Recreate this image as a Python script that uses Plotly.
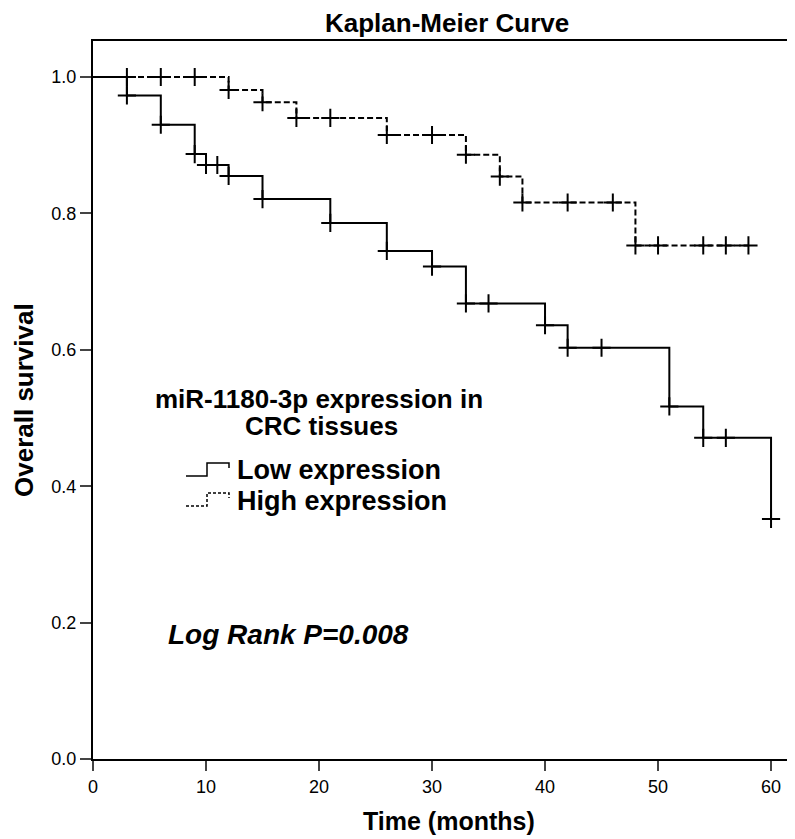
import plotly.graph_objects as go

# ---- data ----
low_event_times = [0, 3, 6, 9, 10, 12, 15, 21, 26, 30, 33, 40, 42, 51, 54, 60]
low_survival = [1.0, 0.973, 0.930, 0.887, 0.871, 0.855, 0.821, 0.786, 0.745, 0.722, 0.668, 0.636, 0.603, 0.517, 0.471, 0.352]
low_censor_times = [3, 6, 9, 10, 11, 12, 15, 21, 26, 30, 33, 35, 40, 42, 45, 51, 54, 56, 60]
low_end_time = 60

high_event_times = [0, 12, 15, 18, 26, 33, 36, 38, 48]
high_survival = [1.0, 0.981, 0.963, 0.940, 0.915, 0.886, 0.854, 0.816, 0.753]
high_censor_times = [3, 6, 9, 12, 15, 18, 21, 26, 30, 33, 36, 38, 42, 46, 48, 50, 54, 56, 58]
high_end_time = 58

x_ticks = [0, 10, 20, 30, 40, 50, 60]
y_ticks = [0.0, 0.2, 0.4, 0.6, 0.8, 1.0]
y_tick_labels = ["0.0", "0.2", "0.4", "0.6", "0.8", "1.0"]

FONT = "Liberation Sans, Arial, sans-serif"
W, H = 795, 839
OFF = 8  # page body margin of the html page
# plot area in screen pixels: left 93, top 41, bottom (y=0) 759, right 795
ML, MT = 93 - OFF, 41 - OFF
MR = W + OFF - 795
MB = H - (759 - OFF)


def surv_at(t, times, surv):
    s = surv[0]
    for ti, si in zip(times, surv):
        if ti <= t:
            s = si
    return s


def px(xs, ys):
    # screen pixel -> paper coordinates
    xf, yf = xs - OFF, ys - OFF
    return (xf - ML) / (W - ML - MR), (H - MB - yf) / (H - MT - MB)


fig = go.Figure()

for times, surv, ctimes, tend, dash in [
    (low_event_times, low_survival, low_censor_times, low_end_time, "solid"),
    (high_event_times, high_survival, high_censor_times, high_end_time, "6px,3px"),
]:
    xs = list(times)
    ys = list(surv)
    if xs[-1] < tend:
        xs.append(tend)
        ys.append(ys[-1])
    fig.add_trace(go.Scatter(
        x=xs, y=ys, mode="lines", line=dict(shape="hv", color="black", width=2, dash=dash),
        showlegend=False, hoverinfo="skip"))
    fig.add_trace(go.Scatter(
        x=ctimes, y=[surv_at(t, times, surv) for t in ctimes], mode="markers",
        marker=dict(symbol="cross-thin", size=13, line=dict(color="black", width=2)),
        showlegend=False, hoverinfo="skip"))

annotations = []


def add_text(text, xs, ys, size, xanchor="center", italic=False, angle=0):
    x, y = px(xs, ys)
    t = "<b>" + text + "</b>"
    if italic:
        t = "<i>" + t + "</i>"
    annotations.append(dict(text=t, x=x, y=y, xref="paper", yref="paper", xanchor=xanchor,
                            yanchor="middle", showarrow=False, textangle=angle,
                            font=dict(family=FONT, size=size, color="black")))


add_text("Kaplan-Meier Curve", 447, 23, 26)
add_text("Time (months)", 449, 821, 25)
add_text("Overall survival", 24, 400, 26, angle=-90)
add_text("miR-1180-3p expression in", 319, 399, 26)
add_text("CRC tissues", 321, 426, 26)
add_text("Low expression", 235, 470, 27, xanchor="left")
add_text("High expression", 235, 501, 27, xanchor="left")
add_text("Log Rank P=0.008", 288, 634, 28, italic=True)

shapes = []


def icon(y0, dash):
    pts = [(186, y0), (207, y0), (207, y0 - 13), (229, y0 - 13), (229, y0 - 8)]
    path = ""
    for i, (a, b) in enumerate(pts):
        x, y = px(a, b)
        path += ("M" if i == 0 else "L") + f"{x},{y} "
    shapes.append(dict(type="path", path=path, xref="paper", yref="paper",
                       line=dict(color="black", width=1.5, dash=dash)))


icon(476, "solid")
icon(506, "3px,2px")

fig.update_layout(
    width=W, height=H,
    margin=dict(l=ML, r=MR, t=MT, b=MB),
    paper_bgcolor="white", plot_bgcolor="white",
    showlegend=False,
    annotations=annotations,
    shapes=shapes,
    font=dict(family=FONT, color="black"),
)
fig.update_xaxes(
    range=[0, 62.12], tickvals=x_ticks, ticks="outside", ticklen=10, tickwidth=2,
    showline=True, linewidth=2, linecolor="black", mirror=True, showgrid=False, zeroline=False,
    tickfont=dict(family=FONT, size=18, color="black"),
)
fig.update_yaxes(
    range=[0, 1.0528], tickvals=y_ticks, ticktext=y_tick_labels, ticks="outside", ticklen=11, tickwidth=2,
    showline=True, linewidth=2, linecolor="black", mirror=False, showgrid=False, zeroline=False,
    tickfont=dict(family=FONT, size=18, color="black"),
)

fig.write_html("out.html")
